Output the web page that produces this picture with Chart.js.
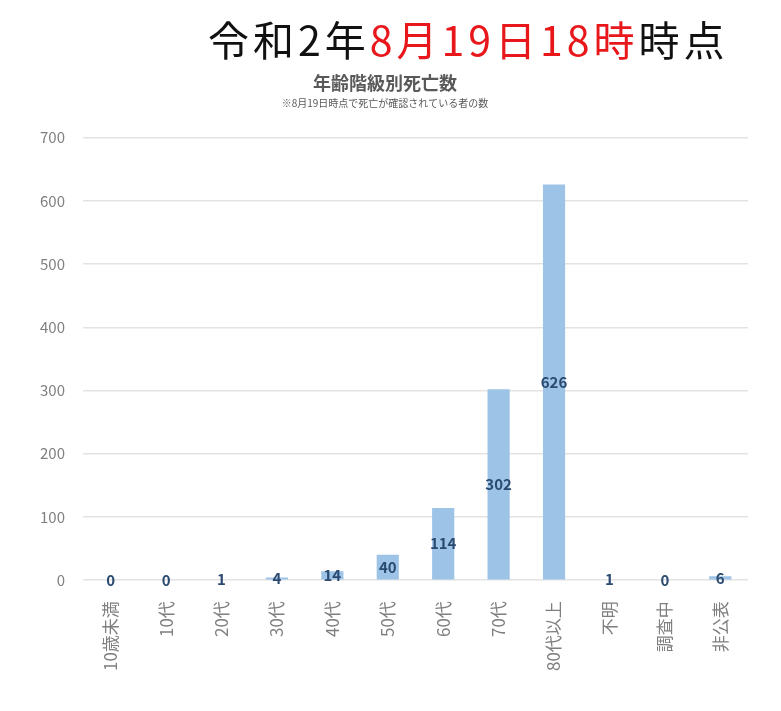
<!DOCTYPE html>
<html>
<head>
<meta charset="utf-8">
<script src="https://cdn.jsdelivr.net/npm/chart.js@4"></script>
<style>
  body { margin: 0; background: #fff; }
  #wrap { position: relative; width: 781px; height: 711px; }
  #headline {
    position: absolute; left: 208px; top: 14px;
    font-family: "Noto Sans CJK JP", sans-serif; font-size: 41px; letter-spacing: 4px;
    color: #111; white-space: nowrap; line-height: 1.2;
  }
  #headline .red { color: #e8171b; }
</style>
</head>
<body>
<div id="wrap">
  <canvas id="graphCanvas" width="781" height="711"></canvas>
  <div id="headline">令和2年<span class="red">8月19日18時</span>時点</div>
</div>
<script>
    const labels = ['10歳未満', '10代', '20代', '30代', '40代', '50代', '60代', '70代', '80代以上', '不明', '調査中', '非公表'];
    const deaths = [0, 0, 1, 4, 14, 40, 114, 302, 626, 1, 0, 6];
    const yTicks = [0, 100, 200, 300, 400, 500, 600, 700];

    const fontFamily = '"Noto Sans CJK JP", sans-serif';

    // value labels in the middle of each bar
    const barValues = {
        id: 'barValues',
        afterDatasetsDraw(chart) {
            const c = chart.ctx;
            const meta = chart.getDatasetMeta(0);
            c.save();
            c.font = 'bold 15px ' + fontFamily;
            c.fillStyle = '#2b4a70';
            c.textAlign = 'center';
            c.textBaseline = 'middle';
            meta.data.forEach(function(bar, i) {
                c.fillText(String(deaths[i]), bar.x, (bar.y + bar.base) / 2);
            });
            c.restore();
        }
    };

    new Chart(document.getElementById('graphCanvas'), {
        type: 'bar',
        data: {
            labels: labels,
            datasets: [{
                label: '死亡数',
                data: deaths,
                backgroundColor: '#9dc3e6',
                borderWidth: 0,
                barPercentage: 0.4,
                categoryPercentage: 1
            }]
        },
        options: {
            responsive: false,
            animation: false,
            layout: {
                padding: { top: 72, right: 33, bottom: 27, left: 22 }
            },
            plugins: {
                legend: { display: false },
                tooltip: { enabled: false },
                title: {
                    display: true,
                    text: '年齢階級別死亡数',
                    color: '#595959',
                    font: { family: fontFamily, size: 18, weight: 'bold' },
                    padding: { top: 0, bottom: 4 }
                },
                subtitle: {
                    display: true,
                    text: '※8月19日時点で死亡が確認されている者の数',
                    color: '#595959',
                    font: { family: fontFamily, size: 10 },
                    padding: { top: 0, bottom: 28 }
                }
            },
            scales: {
                x: {
                    grid: { display: false },
                    border: { display: false },
                    ticks: {
                        color: '#7f7f7f',
                        font: { family: fontFamily, size: 17 },
                        minRotation: 90,
                        maxRotation: 90,
                        padding: 13
                    }
                },
                y: {
                    min: 0,
                    max: 700,
                    afterBuildTicks: function(axis) {
                        axis.ticks = yTicks.map(v => ({ value: v }));
                    },
                    grid: { color: '#e3e3e3', lineWidth: 1.5, drawTicks: false },
                    border: { display: false },
                    ticks: {
                        color: '#7f7f7f',
                        font: { family: fontFamily, size: 15 },
                        padding: 18
                    }
                }
            }
        },
        plugins: [barValues]
    });
</script>
</body>
</html>
